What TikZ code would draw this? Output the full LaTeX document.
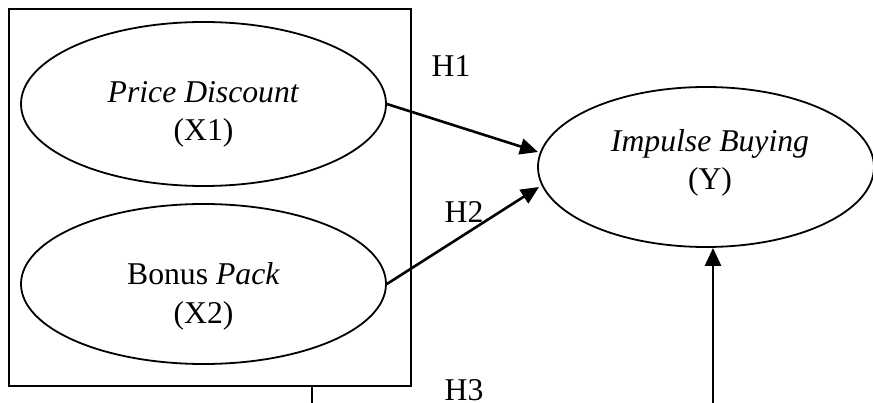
\documentclass[tikz,border=0pt]{standalone}
\usepackage{fontspec}
\setmainfont{Liberation Serif}
\usetikzlibrary{shapes.geometric,arrows.meta}
\tikzset{
  ell/.style={draw, ellipse, line width=1.8pt, inner sep=0pt},
  txt/.style={align=center, font=\fontsize{31.7}{38.5}\selectfont, inner sep=0pt},
  hlab/.style={font=\fontsize{31.7}{38.5}\selectfont, inner sep=0pt},
  arr/.style={line width=2.6pt, -{Triangle[length=18pt,width=16pt]}},
  plain/.style={line width=1.6pt}
}
\begin{document}
\begin{tikzpicture}[x=1pt,y=-1pt]
\useasboundingbox (0,0) rectangle (873,403);
\node[draw, line width=1.6pt, minimum width=402pt, minimum height=377pt, inner sep=0pt] (box) at (210,197.5) {};
\node[ell, minimum width=365pt, minimum height=164pt] (x1) at (203.5,104) {};
\node[txt] (x1t) at (203.5,114.5) {\textit{Price Discount}\\(X1)};
\node[ell, minimum width=365pt, minimum height=160pt] (x2) at (203.5,284) {};
\node[txt] (x2t) at (203.5,296.5) {Bonus \textit{Pack}\\(X2)};
\node[ell, minimum width=336pt, minimum height=160pt] (y) at (706,167) {};
\node[txt] (yt) at (710,163) {\textit{Impulse Buying}\\(Y)};
\node[hlab] (h1) at (451,66) {H1};
\node[hlab] (h2) at (464,212) {H2};
\node[hlab] (h3) at (464,390) {H3};
\coordinate (t1) at (538,152);
\coordinate (t2) at (539,187);
\draw[arr] (x1.east) -- (t1);
\draw[arr] (x2.east) -- (t2);
\coordinate (b2) at (713,403);
\draw[arr] (b2) -- (b2 |- y.south);
\coordinate (b1) at (312,403);
\draw[plain] (b1) -- (b1 |- box.south);
\end{tikzpicture}
\end{document}
